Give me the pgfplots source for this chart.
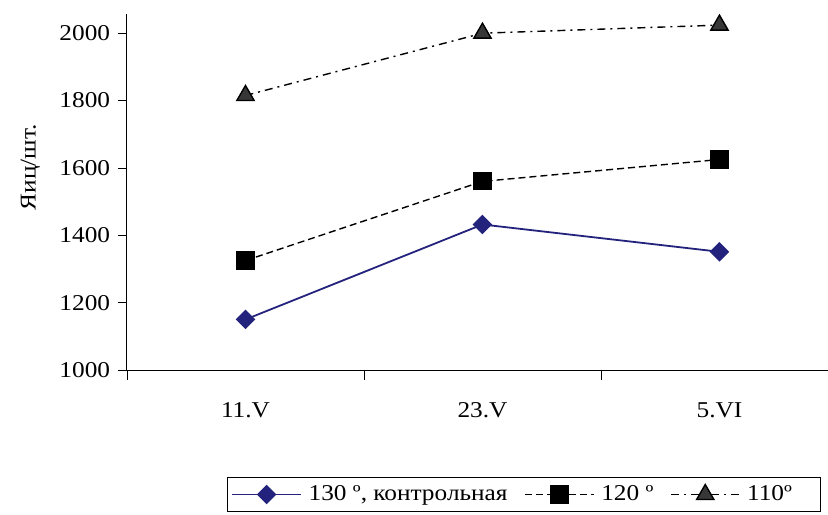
\documentclass[border=0pt]{standalone}
\usepackage{fontspec}
\setmainfont{Liberation Serif}[FakeStretch=1.12]
\usepackage{pgfplots}
\pgfplotsset{compat=1.18}
\definecolor{navy}{RGB}{35,35,125}
\definecolor{tri}{RGB}{55,55,55}
\begin{document}
\fontsize{11.3}{13}\selectfont
\begin{tikzpicture}
\path[use as bounding box] (0,0) rectangle (414pt,257pt);
\begin{axis}[
  at={(63.5pt,72pt)}, anchor=south west,
  scale only axis, width=350.5pt, height=178pt,
  xmin=-0.5, xmax=2.458, ymin=1000, ymax=2057,
  axis x line=bottom, axis y line=left,
  axis line style={-, line width=0.5pt},
  xtick={0,1,2}, xticklabels={11.V,23.V,5.VI},
  minor xtick={-0.5,0.5,1.5},
  ytick={1000,1200,...,2000},
  tick align=outside,
  major tick length=4.5pt, minor tick length=5pt,
  x tick style={draw=none},
  minor x tick style={draw=black, line width=0.4pt},
  y tick style={black, line width=0.4pt},
  xticklabel style={yshift=-8pt},
  /pgf/number format/assume math mode=true,
  /pgf/number format/1000 sep={},
  ticklabel style={font=\fontsize{11.3}{13}\selectfont},
  ylabel={Яиц/шт.},
  ylabel style={at={(axis description cs:-0.138,0.570)}, anchor=center, rotate=0},
  legend columns=3,
  legend style={at={(0.1427,-0.300)}, anchor=north west, draw=black, line width=0.5pt,
    font=\fontsize{11.3}{13}\selectfont, inner sep=2pt,
    nodes={inner xsep=3.5pt},
    /tikz/every even column/.append style={column sep=5pt}},
  legend image code/.code={\draw[mark repeat=2, mark phase=2, #1] plot coordinates {(0cm,0cm) (0.6cm,0cm) (1.2cm,0cm)};},
]
\addplot[navy, line width=0.9pt, mark=square*, mark size=3pt, mark options={solid, fill=navy, draw=navy, rotate=45}]
  coordinates {(0,1150) (1,1432) (2,1351)};
\addlegendentry{130 º, контрольная}
\addplot[black, line width=0.7pt, dash pattern=on 3.5pt off 2pt, mark=square*, mark size=4.2pt, mark options={solid, fill=black}]
  coordinates {(0,1325) (1,1560) (2,1625)};
\addlegendentry{120 º}
\addplot[black, line width=0.7pt, dash pattern=on 4pt off 2.5pt on 1pt off 2.5pt, mark=triangle*, mark size=5pt, mark options={solid, fill=tri, draw=black}]
  coordinates {(0,1815) (1,2000) (2,2024)};
\addlegendentry{110º\rule{9pt}{0pt}}
\end{axis}
\end{tikzpicture}
\end{document}
